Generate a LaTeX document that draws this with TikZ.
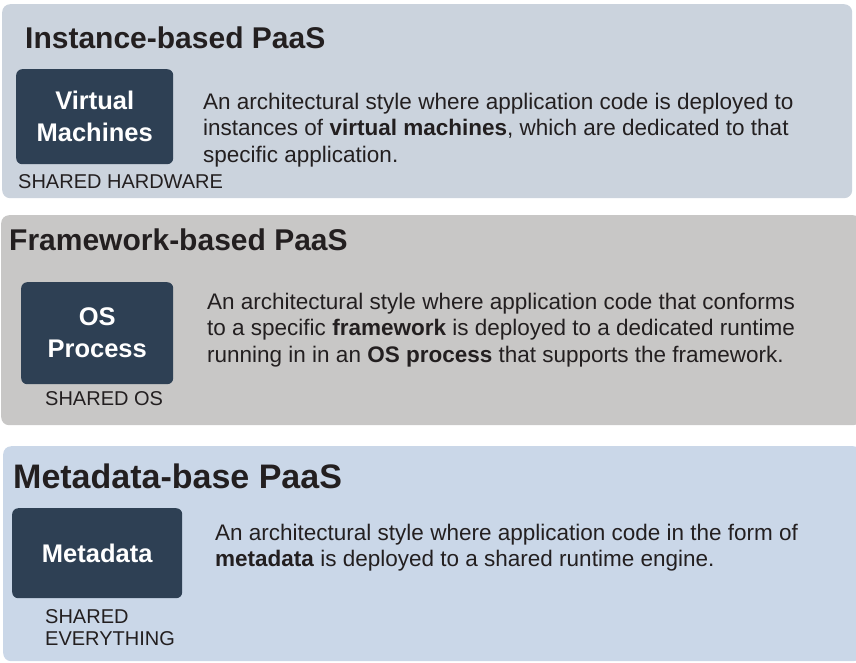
\documentclass[tikz,border=0pt]{standalone}
\usepackage{fontspec}
\setmainfont{Liberation Sans}
\definecolor{pone}{RGB}{203,211,221}
\definecolor{ptwo}{RGB}{200,199,198}
\definecolor{pthree}{RGB}{202,215,232}
\definecolor{boxc}{RGB}{46,64,84}
\definecolor{txt}{RGB}{35,31,32}
\tikzset{
  panel/.style={draw=none, rounded corners=8pt, anchor=north west, inner sep=0pt},
  darkbox/.style={fill=boxc, draw=none, rounded corners=6pt, anchor=north west, inner sep=0pt,
    text=white, align=center, font=\fontsize{25.5}{32}\selectfont\bfseries},
  ptitle/.style={anchor=base west, inner sep=0pt, text=txt, font=\fontsize{30}{36}\selectfont\bfseries},
  ptitlebig/.style={anchor=base west, inner sep=0pt, text=txt, font=\fontsize{34}{40}\selectfont\bfseries},
  desc/.style={anchor=base west, inner sep=0pt, text=txt, align=left, font=\fontsize{22.5}{26.5}\selectfont},
  lab/.style={anchor=base west, inner sep=0pt, text=txt, align=left, font=\fontsize{20}{22}\selectfont}
}
\begin{document}
\begin{tikzpicture}[x=1pt,y=-1pt]
\useasboundingbox (0,0) rectangle (856,662);
% panels
\node[panel, fill=pone, minimum width=850pt, minimum height=194pt] (panelA) at (2,4) {};
\node[panel, fill=ptwo, minimum width=860pt, minimum height=210pt] (panelB) at (1,215) {};
\node[panel, fill=pthree, minimum width=858pt, minimum height=215pt] (panelC) at (3,446) {};
% titles
\node[ptitle] (titleA) at (25,48) {Instance-based PaaS};
\node[ptitle] (titleB) at (9,250) {Framework-based PaaS};
\node[ptitlebig] (titleC) at (13,488) {Metadata-base PaaS};
% dark boxes
\node[darkbox, minimum width=157pt, minimum height=95pt] (boxA) at (16,69) {Virtual\\Machines};
\node[darkbox, minimum width=152pt, minimum height=102pt] (boxB) at (21,282) {OS\\Process};
\node[darkbox, minimum width=170pt, minimum height=90pt] (boxC) at (12,508) {Metadata};
% labels (base anchor = baseline of last line)
\node[lab] (labA) at (18,188) {SHARED HARDWARE};
\node[lab] (labB) at (45,405) {SHARED OS};
\node[lab] (labC) at (45,645) {SHARED\\EVERYTHING};
% descriptions (base anchor = baseline of last line)
\node[desc] (descA) at (203,162) {An architectural style where application code is deployed to\\instances of \textbf{virtual machines}, which are dedicated to that\\specific application.};
\node[desc] (descB) at (207,362) {An architectural style where application code that conforms\\to a specific \textbf{framework} is deployed to a dedicated runtime\\running in in an \textbf{OS process} that supports the framework.};
\node[desc] (descC) at (215,566.5) {An architectural style where application code in the form of\\\textbf{metadata} is deployed to a shared runtime engine.};
\end{tikzpicture}
\end{document}
